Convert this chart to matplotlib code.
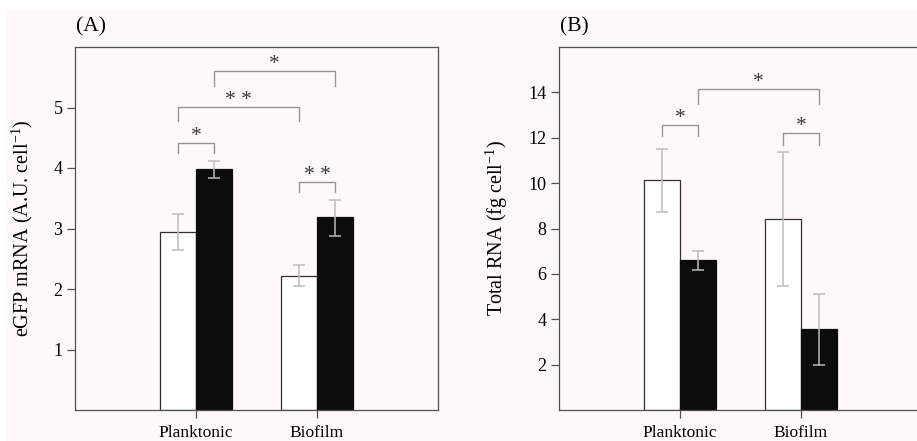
import matplotlib
matplotlib.use("Agg")
import matplotlib.pyplot as plt
from matplotlib.patches import Rectangle
import numpy as np

plt.rcParams["font.family"] = ["Liberation Serif", "DejaVu Serif"]
plt.rcParams["mathtext.fontset"] = "custom"
plt.rcParams["mathtext.rm"] = "Liberation Serif"
plt.rcParams["mathtext.it"] = "Liberation Serif:italic"

GROUPS = ["Planktonic", "Biofilm"]

# (A) eGFP mRNA, white / black bars
egfp_white = [2.95, 2.22]
egfp_white_lo = [2.65, 2.05]
egfp_white_hi = [3.24, 2.39]
egfp_black = [3.98, 3.19]
egfp_black_lo = [3.83, 2.88]
egfp_black_hi = [4.12, 3.47]
egfp_ticks = [1, 2, 3, 4, 5]
# brackets: x1, x2, y, leg drop, label
egfp_brackets = [
    (0.85, 1.15, 4.42, 0.18, "*"),
    (0.85, 1.85, 5.01, 0.24, "* *"),
    (1.15, 2.15, 5.60, 0.24, "*"),
    (1.85, 2.15, 3.77, 0.17, "* *"),
]

# (B) total RNA
rna_white = [10.12, 8.41]
rna_white_lo = [8.72, 5.46]
rna_white_hi = [11.51, 11.35]
rna_black = [6.59, 3.56]
rna_black_lo = [6.18, 1.97]
rna_black_hi = [7.01, 5.12]
rna_ticks = [2, 4, 6, 8, 10, 12, 14]
rna_brackets = [
    (0.85, 1.15, 12.57, 0.50, "*"),
    (1.15, 2.15, 14.13, 0.65, "*"),
    (1.85, 2.15, 12.19, 0.50, "*"),
]

BG = "#fdf9f9"
SPINE = "#505050"
ERR = "#bcbcbc"
W = 0.3

fig = plt.figure(figsize=(9.17, 4.41), dpi=100)
fig.patch.set_facecolor(BG)
# white margin strips at top and left of the scan
fig.patches.append(Rectangle((0, 1 - 10 / 441), 1, 10 / 441, transform=fig.transFigure,
                             facecolor="white", edgecolor="none"))
fig.patches.append(Rectangle((0, 0), 7 / 917, 1, transform=fig.transFigure,
                             facecolor="white", edgecolor="none"))


def panel(ax, white, wlo, whi, black, blo, bhi, ylim, ticks, brackets, ylabel, labx, tag):
    ax.set_facecolor(BG)
    x = np.arange(1, len(GROUPS) + 1)
    ax.bar(x - W / 2, white, W, color="white", edgecolor="#303030", linewidth=0.9, zorder=2)
    ax.bar(x + W / 2, black, W, color="#0c0c0c", edgecolor="#0c0c0c", linewidth=0.9, zorder=2)
    for xs, v, lo, hi in ((x - W / 2, white, wlo, whi), (x + W / 2, black, blo, bhi)):
        v = np.array(v)
        yerr = [v - np.array(lo), np.array(hi) - v]
        ax.errorbar(xs, v, yerr=yerr, fmt="none", ecolor=ERR, elinewidth=1.1,
                    capsize=4.5, capthick=1.1, zorder=3)
    for x1, x2, y, d, lab in brackets:
        ax.plot([x1, x1, x2, x2], [y - d, y, y, y - d], color="#959595", lw=1.0,
                zorder=3, solid_joinstyle="miter")
        ax.annotate(lab, ((x1 + x2) / 2, y), xytext=(0, 1.5), textcoords="offset points",
                    ha="center", va="baseline", fontsize=15.5, color="#3a3a3a")
    ax.set_xlim(0, 3)
    ax.set_ylim(*ylim)
    ax.set_xticks(x)
    ax.set_xticklabels(GROUPS, fontsize=12.5)
    ax.set_yticks(ticks)
    ax.set_yticklabels([str(t) for t in ticks], fontsize=13)
    ax.tick_params(direction="out", length=6, width=0.9, color=SPINE, pad=3)
    ax.tick_params(axis="x", pad=5)
    for s in ax.spines.values():
        s.set_color(SPINE)
        s.set_linewidth(0.9)
    ax.set_ylabel(ylabel, fontsize=14.5)
    ax.yaxis.set_label_coords(labx, 0.5)
    ax.annotate(tag, (0, 1), xycoords="axes fraction", xytext=(1, 14.5),
                textcoords="offset points", fontsize=15.5, ha="left", va="center")


ax1 = fig.add_axes([75 / 917, 31 / 441, 363 / 917, 363 / 441])
panel(ax1, egfp_white, egfp_white_lo, egfp_white_hi, egfp_black, egfp_black_lo, egfp_black_hi,
      (0, 6), egfp_ticks, egfp_brackets, "eGFP mRNA (A.U. cell$^{\\mathregular{-1}}$)",
      -0.110, "(A)")

ax2 = fig.add_axes([559 / 917, 31 / 441, 363 / 917, 363 / 441])
panel(ax2, rna_white, rna_white_lo, rna_white_hi, rna_black, rna_black_lo, rna_black_hi,
      (0, 16), rna_ticks, rna_brackets, "Total RNA (fg cell$^{\\mathregular{-1}}$)",
      -0.136, "(B)")

fig.savefig("out.png", dpi=100, facecolor=fig.get_facecolor())
